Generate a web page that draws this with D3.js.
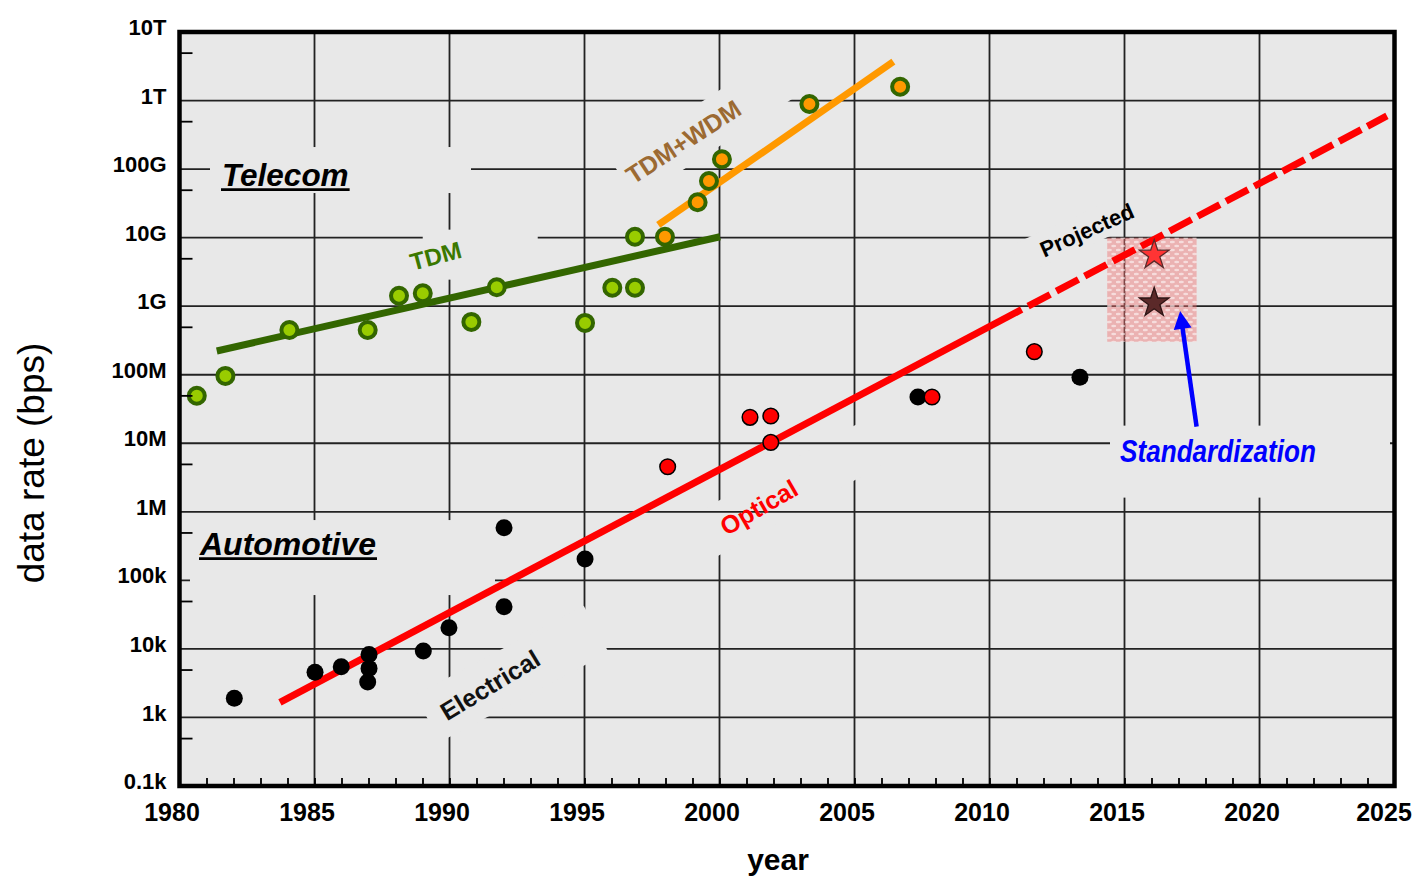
<!DOCTYPE html>
<html>
<head>
<meta charset="utf-8">
<script src="https://cdn.jsdelivr.net/npm/d3@7/dist/d3.min.js"></script>
<style>
  body { margin: 0; background: #fff; }
  svg { display: block; }
  text { font-family: "Liberation Sans", Arial, Helvetica, sans-serif; }
</style>
</head>
<body>
<svg id="chart" width="1413" height="878"></svg>
<script>
// ---- data: [year, data rate in bps] ----
const tdmPoints = [
  [1980.64, 4.94e7], [1981.70, 9.6e7], [1984.07, 4.5e8], [1986.97, 4.5e8],
  [1988.13, 1.42e9], [1989.01, 1.54e9], [1990.81, 5.9e8], [1991.75, 1.89e9],
  [1995.02, 5.7e8], [1996.03, 1.86e9], [1996.87, 1.86e9], [1996.87, 1.03e10]
];
const wdmPoints = [
  [1997.98, 1.03e10], [1999.19, 3.28e10], [1999.61, 6.7e10],
  [2000.09, 1.39e11], [2003.33, 8.9e11], [2006.69, 1.59e12]
];
const electricalPoints = [
  [1982.03, 1.9e3], [1985.02, 4.56e3], [1985.99, 5.5e3], [1987.02, 8.3e3],
  [1987.02, 5.2e3], [1986.97, 3.3e3], [1989.03, 9.3e3], [1989.98, 2.04e4],
  [1992.02, 5.86e5], [1992.02, 4.13e4], [1995.02, 2.05e5],
  [2007.35, 4.73e7], [2013.35, 9.2e7]
];
const opticalPoints = [
  [1998.08, 4.55e6], [2001.13, 2.39e7], [2001.90, 2.5e7],
  [2001.90, 1.03e7], [2007.87, 4.73e7], [2011.66, 2.17e8]
];
const tdmTrend = [[1981.38, 2.22e8], [2000.02, 1.03e10]];
const wdmTrend = [[1997.73, 1.53e10], [2006.44, 3.69e12]];
const opticalTrend = [[1983.72, 1.66e3], [2011.19, 8.95e8]];
const projectedTrend = [[2011.43, 1.0e9], [2024.72, 5.96e11]];
const standardStars = [[2016.1, 5.58e9], [2016.1, 1.12e9]];
const windowYears = [2014.36, 2017.67];
const windowRates = [3.03e8, 1.0e10];
const arrowFrom = [2017.67, 1.75e7];
const arrowTo = [2017.06, 8.5e8];

// ---- axis ticks ----
const rateTicks = [1e2, 1e3, 1e4, 1e5, 1e6, 1e7, 1e8, 1e9, 1e10, 1e11, 1e12, 1e13];
const rateTickLabels = ["0.1k", "1k", "10k", "100k", "1M", "10M", "100M", "1G", "10G", "100G", "1T", "10T"];
const minorRates = [5e2, 5e3, 5e4, 5e5, 5e6, 5e7, 5e8, 5e9, 5e10, 5e11, 5e12];
const yearTicks = [1980, 1985, 1990, 1995, 2000, 2005, 2010, 2015, 2020, 2025];
const yearTickLabels = ["1980", "1985", "1990", "1995", "2000", "2005", "2010", "2015", "2020", "2025"];

// ---- layout ----
const bg = "#e8e8e8";
const svg = d3.select("#chart");
const x = d3.scaleLinear().domain([1980, 2025]).range([179.5, 1394.5]);
const y = d3.scaleLog().domain([1e2, 1e13]).range([786, 32]);
const [x0, x1] = x.range();
const [y0, y1] = y.range();   // y0 bottom, y1 top

const defs = svg.append("defs");
defs.append("clipPath").attr("id", "plotClip")
  .append("rect").attr("x", x0).attr("y", y1).attr("width", x1 - x0).attr("height", y0 - y1);

const dots = defs.append("pattern").attr("id", "dots")
  .attr("width", 9).attr("height", 8).attr("patternUnits", "userSpaceOnUse");
dots.append("rect").attr("width", 9).attr("height", 8).attr("fill", "#f07272").attr("fill-opacity", 0.45);
dots.append("ellipse").attr("cx", 2.3).attr("cy", 2).attr("rx", 2.6).attr("ry", 1.2).attr("fill", "#fff").attr("fill-opacity", 0.55);
dots.append("ellipse").attr("cx", 6.8).attr("cy", 6).attr("rx", 2.6).attr("ry", 1.2).attr("fill", "#fff").attr("fill-opacity", 0.55);

// plot background
svg.append("rect").attr("x", x0).attr("y", y1).attr("width", x1 - x0).attr("height", y0 - y1).attr("fill", bg);

// text labels and the backing panels behind them (layer "A" hides only vertical grid)
const labels = [
  { text: "Telecom", at: [1981.574, 5.66e10], anchor: "start", angle: 0, size: 31.5, color: "#000", italic: true, underline: true,
    box: { angle: 0, u: [-12, 249], v: [-39, 7], layer: "B" } },
  { text: "Automotive", at: [1980.759, 2.34e5], anchor: "start", angle: 0, size: 32, color: "#000", italic: true, underline: true,
    box: { angle: 0, u: [-10, 295], v: [-35, 40], layer: "B" } },
  { text: "TDM", at: [1989.49, 5.46e9], anchor: "middle", angle: -15, size: 24, color: "#3b7800",
    box: { angle: 0, u: [-13, 102], v: [-26, 24], layer: "B" } },
  { text: "TDM+WDM", at: [1998.659, 2.51e11], anchor: "middle", angle: -33, size: 25, color: "#9c6a32",
    box: { angle: -33, u: [-71, 175], v: [-23.5, 23.5], layer: "B" } },
  { text: "Projected", at: [2013.6, 1.29e10], anchor: "middle", angle: -24, size: 22, color: "#000",
    box: { angle: -24, u: [-75, 30], v: [-17, 15], layer: "B" } },
  { text: "Optical", at: [2001.452, 1.17e6], anchor: "middle", angle: -30, size: 25, color: "#ff0000",
    box: { angle: -29, u: [-62, 128], v: [-25, 23], layer: "A" } },
  { text: "Electrical", at: [1991.5, 2.98e3], anchor: "middle", angle: -31, size: 25, color: "#111",
    box: { angle: -28, u: [-71, 120], v: [-26, 27], layer: "B" } },
  { text: "Standardization", at: [2018.463, 5.4e6], anchor: "baseline", angle: 0, size: 31, color: "#0000ff", italic: true, fit: 196,
    box: { angle: 0, u: [-108, 172], v: [-36, 36], layer: "B" } }
];

function drawBoxes(layer) {
  const g = svg.append("g").attr("clip-path", "url(#plotClip)");
  labels.filter(d => d.box.layer === layer).forEach(d => {
    const b = d.box;
    g.append("rect")
      .attr("x", b.u[0]).attr("y", b.v[0])
      .attr("width", b.u[1] - b.u[0]).attr("height", b.v[1] - b.v[0])
      .attr("fill", bg)
      .attr("transform", `translate(${x(d.at[0])},${y(d.at[1])}) rotate(${b.angle})`);
  });
}

// grid: vertical lines, panels that hide only verticals, horizontal lines, remaining panels
const gridStroke = "#222", gridWidth = 1.8;
svg.append("g").selectAll("line").data(yearTicks.slice(1, -1)).join("line")
  .attr("x1", d => x(d)).attr("x2", d => x(d)).attr("y1", y1).attr("y2", y0)
  .attr("stroke", gridStroke).attr("stroke-width", gridWidth);
drawBoxes("A");
svg.append("g").selectAll("line").data(rateTicks.slice(1, -1)).join("line")
  .attr("x1", x0).attr("x2", x1).attr("y1", d => y(d)).attr("y2", d => y(d))
  .attr("stroke", gridStroke).attr("stroke-width", gridWidth);
drawBoxes("B");

// standardization window
svg.append("rect")
  .attr("x", x(windowYears[0])).attr("y", y(windowRates[1]))
  .attr("width", x(windowYears[1]) - x(windowYears[0]))
  .attr("height", y(windowRates[0]) - y(windowRates[1]))
  .attr("fill", "url(#dots)");

// trend lines
const line = d3.line().x(d => x(d[0])).y(d => y(d[1]));
svg.append("path").datum(tdmTrend).attr("d", line)
  .attr("fill", "none").attr("stroke", "#336600").attr("stroke-width", 7);
svg.append("path").datum(wdmTrend).attr("d", line)
  .attr("fill", "none").attr("stroke", "#ff9900").attr("stroke-width", 7);
svg.append("path").datum(opticalTrend).attr("d", line)
  .attr("fill", "none").attr("stroke", "#ff0000").attr("stroke-width", 7);
svg.append("path").datum(projectedTrend).attr("d", line)
  .attr("fill", "none").attr("stroke", "#ff0000").attr("stroke-width", 7)
  .attr("stroke-dasharray", "25 7");

// data points
function dotsLayer(data, r, fill, stroke, sw) {
  svg.append("g").selectAll("circle").data(data).join("circle")
    .attr("cx", d => x(d[0])).attr("cy", d => y(d[1])).attr("r", r)
    .attr("fill", fill).attr("stroke", stroke).attr("stroke-width", sw);
}
dotsLayer(tdmPoints, 8, "#99cc00", "#336600", 4);
dotsLayer(wdmPoints, 8, "#ff9900", "#336600", 4);
dotsLayer(electricalPoints, 8.5, "#000", "none", 0);
dotsLayer(opticalPoints, 7.8, "#ff0000", "#000", 1.5);

// stars
const starFill = ["#ff3434", "#5b2929"];
const starStroke = ["#5a2a2a", "#2e1414"];
svg.append("g").selectAll("path").data(standardStars).join("path")
  .attr("d", d3.symbol(d3.symbolStar, 270))
  .attr("transform", d => `translate(${x(d[0])},${y(d[1])})`)
  .attr("fill", (d, i) => starFill[i]).attr("stroke", (d, i) => starStroke[i]).attr("stroke-width", 1.3);

// arrow pointing at the window
(function () {
  const ax = x(arrowFrom[0]), ay = y(arrowFrom[1]);
  const bx = x(arrowTo[0]), by = y(arrowTo[1]);
  const len = Math.hypot(bx - ax, by - ay);
  const ux = (bx - ax) / len, uy = (by - ay) / len;
  const headL = 18, headW = 9;
  const hx = bx - ux * headL, hy = by - uy * headL;
  svg.append("line").attr("x1", ax).attr("y1", ay).attr("x2", hx + ux * 2).attr("y2", hy + uy * 2)
    .attr("stroke", "#0000ff").attr("stroke-width", 4.5);
  svg.append("path")
    .attr("d", `M${bx},${by}L${hx - uy * headW},${hy + ux * headW}L${hx + uy * headW},${hy - ux * headW}Z`)
    .attr("fill", "#0000ff");
})();

// labels
labels.forEach(d => {
  const px = x(d.at[0]), py = y(d.at[1]);
  const t = svg.append("text")
    .attr("transform", `translate(${px},${py}) rotate(${d.angle})`)
    .attr("text-anchor", d.anchor === "middle" || d.anchor === "baseline" ? "middle" : "start")
    .attr("dy", d.anchor === "middle" ? "0.36em" : 0)
    .attr("font-size", d.size).attr("font-weight", "bold")
    .attr("font-style", d.italic ? "italic" : "normal")
    .attr("fill", d.color)
    .text(d.text);
  if (d.fit) t.attr("textLength", d.fit).attr("lengthAdjust", "spacingAndGlyphs");
  if (d.underline) {
    const w = t.node().getComputedTextLength();
    svg.append("line").attr("x1", px - 1).attr("x2", px + w + 1)
      .attr("y1", py + 3.6).attr("y2", py + 3.6)
      .attr("stroke", d.color).attr("stroke-width", 2.6);
  }
});

// axes
const yAxis = svg.append("g").attr("transform", `translate(${x0},0)`)
  .call(d3.axisLeft(y).tickValues(rateTicks).tickFormat((d, i) => rateTickLabels[i]).tickSize(0).tickPadding(13));
yAxis.select(".domain").remove();
yAxis.selectAll("text").attr("font-size", 22).attr("font-weight", "bold").attr("fill", "#000")
  .attr("font-family", "Liberation Sans, Arial, sans-serif").attr("y", -4.5);

const yMinor = svg.append("g").attr("transform", `translate(${x0},0)`)
  .call(d3.axisLeft(y).tickValues(minorRates).tickSize(-13).tickFormat(""));
yMinor.select(".domain").remove();
yMinor.selectAll("line").attr("stroke", "#000").attr("stroke-width", 1.8);

const xAxis = svg.append("g").attr("transform", `translate(0,${y0})`)
  .call(d3.axisBottom(x).tickValues(yearTicks).tickFormat((d, i) => yearTickLabels[i]).tickSize(0).tickPadding(17));
xAxis.select(".domain").remove();
xAxis.selectAll("text").attr("font-size", 25).attr("font-weight", "bold").attr("fill", "#000")
  .attr("font-family", "Liberation Sans, Arial, sans-serif")
  .attr("x", (d, i) => i === yearTicks.length - 1 ? -11 : -8);

const xMinor = svg.append("g").attr("transform", `translate(0,${y0})`)
  .call(d3.axisBottom(x).tickValues(d3.range(1981, 2025)).tickSize(-8).tickFormat(""));
xMinor.select(".domain").remove();
xMinor.selectAll("line").attr("stroke", "#000").attr("stroke-width", 1.8);

// frame
svg.append("rect").attr("x", x0).attr("y", y1).attr("width", x1 - x0).attr("height", y0 - y1)
  .attr("fill", "none").attr("stroke", "#000").attr("stroke-width", 4.5);

// axis titles
svg.append("text").attr("x", 778).attr("y", 870).attr("text-anchor", "middle")
  .attr("font-size", 30).attr("font-weight", "bold").text("year");
svg.append("text").attr("transform", "translate(44,463) rotate(-90)").attr("text-anchor", "middle")
  .attr("font-size", 37).text("data rate (bps)");
</script>
</body>
</html>
